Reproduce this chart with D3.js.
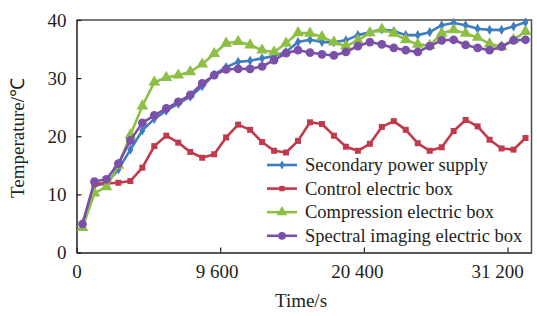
<!DOCTYPE html>
<html>
<head>
<meta charset="utf-8">
<script src="https://cdn.jsdelivr.net/npm/d3@7"></script>
<style>
    body { margin: 0; background: #fff; }
</style>
</head>
<body>
<svg id="chart" width="537" height="316"></svg>
<script>
// Series values, one per sample
const secondaryPower = [4.9, 11.5, 11.9, 14.3, 17.7, 21.0, 23.0, 24.4, 25.6, 26.8, 28.6, 30.6, 31.9, 32.8, 33.0, 33.4, 33.8, 34.5, 36.2, 36.6, 36.2, 36.2, 36.5, 37.4, 37.9, 38.4, 38.1, 37.4, 37.4, 37.9, 39.1, 39.5, 39.1, 38.5, 38.3, 38.3, 38.9, 39.6];
const controlBox = [4.9, 11.8, 11.9, 12.0, 12.3, 14.6, 18.3, 20.1, 18.9, 17.3, 16.3, 16.9, 19.8, 22.0, 21.1, 19.0, 17.5, 17.2, 19.2, 22.4, 22.1, 20.1, 18.2, 17.5, 18.7, 21.6, 22.6, 21.1, 18.8, 17.5, 18.1, 20.9, 22.8, 21.7, 19.4, 17.9, 17.7, 19.7];
const compressionBox = [4.3, 10.2, 11.3, 15.0, 20.2, 25.2, 29.3, 30.1, 30.5, 31.1, 32.4, 34.2, 36.0, 36.3, 35.7, 34.8, 34.5, 36.0, 37.8, 37.7, 37.1, 36.2, 35.5, 36.5, 37.8, 38.4, 37.7, 36.6, 35.8, 35.6, 37.7, 38.3, 37.7, 37.0, 35.9, 35.4, 36.6, 38.0];
const spectralBox = [4.9, 12.2, 12.6, 15.3, 19.3, 22.3, 23.6, 24.8, 25.9, 27.1, 29.1, 30.5, 31.5, 31.6, 31.6, 32.0, 33.1, 34.3, 34.8, 34.4, 34.1, 33.9, 34.5, 35.5, 36.2, 35.8, 35.2, 34.8, 34.5, 35.5, 36.5, 36.6, 35.7, 35.2, 34.8, 35.4, 36.5, 36.6];

const seriesNames = ["Secondary power supply", "Control electric box", "Compression electric box", "Spectral imaging electric box"];
const xTickLabels = ["0", "9 600", "20 400", "31 200"];
const yTicks = [0, 10, 20, 30, 40];

const series = [
    { name: seriesNames[0], values: secondaryPower, color: "#3f7cc0", symbol: d3.symbolDiamond, size: 30 },
    { name: seriesNames[1], values: controlBox, color: "#c03a4c", symbol: d3.symbolSquare, size: 36 },
    { name: seriesNames[2], values: compressionBox, color: "#8dbf45", symbol: d3.symbolTriangle, size: 60 },
    { name: seriesNames[3], values: spectralBox, color: "#7b50a8", symbol: d3.symbolCircle, size: 60 }
];

const FONT = "'Liberation Serif', 'Times New Roman', serif";
const n = secondaryPower.length;
const perTick = 12; // labels every 12 samples, on category boundaries

const plotLeft = 76.5, plotRight = 531.5, plotTop = 20, plotBottom = 252.5;

const svg = d3.select("#chart");

const x = d3.scaleLinear().domain([-0.5, n - 0.5]).range([plotLeft, plotRight]);
const y = d3.scaleLinear().domain([0, 40]).range([plotBottom, plotTop]);

// frame (top and right)
svg.append("path")
    .attr("d", `M${plotLeft},${plotTop}H${plotRight}V${plotBottom}`)
    .attr("fill", "none")
    .attr("stroke", "#4d4d4d")
    .attr("stroke-width", 1.5);

// y axis, ticks pointing inward
const yAxis = svg.append("g")
    .attr("transform", `translate(${plotLeft},0)`)
    .call(d3.axisLeft(y).tickValues(yTicks).tickSizeInner(-5).tickSizeOuter(0).tickPadding(10));
yAxis.attr("font-family", FONT);
yAxis.select(".domain").attr("stroke", "#231f20").attr("stroke-width", 1.5);
yAxis.selectAll(".tick line").attr("stroke", "#231f20").attr("stroke-width", 1.2);
yAxis.selectAll(".tick text").attr("font-size", 19).attr("fill", "#231f20");

// x axis: category axis, labels on every 12th boundary
const xTickPos = xTickLabels.map((d, i) => i * perTick - 0.5);
const xAxis = svg.append("g")
    .attr("transform", `translate(0,${plotBottom})`)
    .call(d3.axisBottom(x).tickValues(xTickPos).tickFormat((d, i) => xTickLabels[i])
        .tickSizeInner(-5).tickSizeOuter(0).tickPadding(12));
xAxis.attr("font-family", FONT);
xAxis.select(".domain").attr("stroke", "#231f20").attr("stroke-width", 1.5);
xAxis.selectAll(".tick line").attr("stroke", "#231f20").attr("stroke-width", 1.2);
xAxis.selectAll(".tick text").attr("font-size", 19).attr("fill", "#231f20")
    .attr("dx", (d, i) => -i * 3.5); // labels drift slightly left of their ticks in the original

// axis titles
svg.append("text")
    .attr("x", 301).attr("y", 307)
    .attr("text-anchor", "middle")
    .attr("font-family", FONT)
    .attr("font-size", 19)
    .attr("fill", "#231f20")
    .text("Time/s");

svg.append("text")
    .attr("transform", "translate(24,138) rotate(-90)")
    .attr("text-anchor", "middle")
    .attr("font-family", FONT)
    .attr("font-size", 19)
    .attr("fill", "#231f20")
    .text("Temperature/℃");

// lines and markers
const line = d3.line().x((d, i) => x(i)).y(d => y(d));

series.forEach(s => {
    svg.append("path")
        .datum(s.values)
        .attr("fill", "none")
        .attr("stroke", s.color)
        .attr("stroke-width", 2.6)
        .attr("stroke-linejoin", "round")
        .attr("d", line);

    svg.append("g")
        .selectAll("path")
        .data(s.values)
        .join("path")
        .attr("transform", (d, i) => `translate(${x(i)},${y(d)})`)
        .attr("d", d3.symbol().type(s.symbol).size(s.size))
        .attr("fill", s.color);
});

// legend
const legend = svg.append("g").attr("transform", "translate(267,165)");
series.forEach((s, i) => {
    const row = legend.append("g").attr("transform", `translate(0,${i * 23.6})`);
    row.append("line")
        .attr("x1", 0).attr("x2", 30)
        .attr("stroke", s.color)
        .attr("stroke-width", 2.6);
    row.append("path")
        .attr("transform", "translate(15,0)")
        .attr("d", d3.symbol().type(s.symbol).size(s.size * 0.8))
        .attr("fill", s.color);
    row.append("text")
        .attr("x", 38).attr("y", 6)
        .attr("font-family", FONT)
        .attr("font-size", 18.5)
        .attr("fill", "#231f20")
        .text(s.name);
});
</script>
</body>
</html>
